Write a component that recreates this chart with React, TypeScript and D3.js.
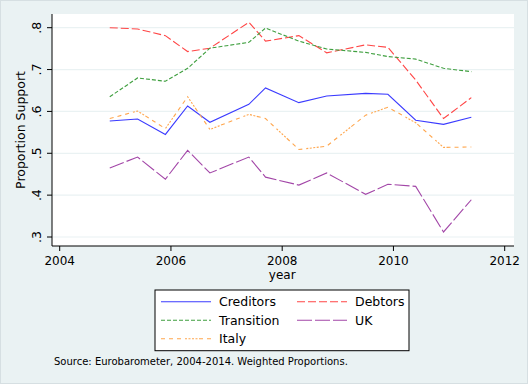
import React from 'react';
import * as d3 from 'd3';

// survey waves (fractional year)
const years = [2004.9, 2005.4, 2005.9, 2006.3, 2006.7, 2007.4, 2007.7, 2008.3, 2008.8, 2009.5, 2009.9, 2010.4, 2010.9, 2011.4];

const creditors = [0.577, 0.582, 0.545, 0.613, 0.574, 0.617, 0.656, 0.621, 0.637, 0.643, 0.641, 0.579, 0.569, 0.586];
const debtors = [0.800, 0.797, 0.781, 0.743, 0.751, 0.813, 0.768, 0.781, 0.740, 0.759, 0.753, 0.675, 0.583, 0.633];
const transition = [0.635, 0.680, 0.672, 0.703, 0.751, 0.765, 0.799, 0.768, 0.749, 0.741, 0.731, 0.725, 0.703, 0.695];
const uk = [0.465, 0.491, 0.438, 0.507, 0.453, 0.491, 0.443, 0.424, 0.453, 0.402, 0.426, 0.421, 0.312, 0.389];
const italy = [0.583, 0.601, 0.559, 0.635, 0.557, 0.593, 0.583, 0.509, 0.517, 0.591, 0.610, 0.573, 0.514, 0.515];

const xTicks = [2004, 2006, 2008, 2010, 2012];
const yTicks = [0.3, 0.4, 0.5, 0.6, 0.7, 0.8];

const series = [
  { name: 'Creditors', values: creditors, color: '#3b3bff', dash: '' },
  { name: 'Debtors', values: debtors, color: '#ff4545', dash: '8,3' },
  { name: 'Transition', values: transition, color: '#3f9f3f', dash: '4,2' },
  { name: 'UK', values: uk, color: '#a347a8', dash: '15,3' },
  { name: 'Italy', values: italy, color: '#ffa64d', dash: '4,4,4,4,4,4,2,1.5,2,1.5,2,1.5,2,1.5' },
];

const font = 'DejaVu Sans, sans-serif';

export default function App() {
  const W = 528, H = 384;
  const plot = { left: 52, right: 514, top: 14, bottom: 246 };
  const x = d3.scaleLinear().domain([2004, 2012]).range([59.7, 504.7]);
  const y = d3.scaleLinear().domain([0.3, 0.8]).range([237, 27.7]);

  const line = (vals: number[]) =>
    d3.line<number>().x((_, i) => x(years[i])).y(d => y(d))(vals) || '';

  // legend layout: 2 columns, 3 rows
  const legendItems = [
    { s: series[0], col: 0, row: 0 },
    { s: series[1], col: 1, row: 0 },
    { s: series[2], col: 0, row: 1 },
    { s: series[3], col: 1, row: 1 },
    { s: series[4], col: 0, row: 2 },
  ];
  const colX = [161, 297];
  const rowY = [301.7, 320.3, 338.8];

  return (
    <svg width={W} height={H} style={{ position: 'absolute', left: 0, top: 0 }} fontFamily={font}>
      <rect x={0} y={0} width={W} height={H} fill="#eaf2f3" />
      <rect x={0.5} y={0.5} width={W - 1} height={H - 1} fill="none" stroke="#d6dfe2" />
      <rect x={plot.left} y={plot.top} width={plot.right - plot.left} height={plot.bottom - plot.top} fill="#ffffff" />

      {yTicks.map(t => (
        <line key={'g' + t} x1={plot.left} x2={plot.right} y1={y(t)} y2={y(t)} stroke="#eaf2f3" strokeWidth={1.2} />
      ))}

      {series.map(s => (
        <path key={s.name} d={line(s.values)} fill="none" stroke={s.color} strokeWidth={1.1}
          strokeDasharray={s.dash || undefined} />
      ))}

      {/* axes */}
      <line x1={plot.left} x2={plot.left} y1={plot.top} y2={plot.bottom} stroke="#000" strokeWidth={1} />
      <line x1={plot.left} x2={plot.right} y1={plot.bottom} y2={plot.bottom} stroke="#000" strokeWidth={1} />

      {yTicks.map(t => (
        <g key={'y' + t}>
          <line x1={plot.left - 5} x2={plot.left} y1={y(t)} y2={y(t)} stroke="#000" />
          <text transform={`translate(41,${y(t)}) rotate(-90)`} textAnchor="middle" fontSize={12.5} fill="#000">
            {d3.format('.1f')(t).replace(/^0/, '')}
          </text>
        </g>
      ))}
      <text transform="translate(24.5,130) rotate(-90)" textAnchor="middle" fontSize={12.5} fill="#000">Proportion Support</text>

      {xTicks.map(t => (
        <g key={'x' + t}>
          <line x1={x(t)} x2={x(t)} y1={plot.bottom} y2={plot.bottom + 5} stroke="#000" />
          <text x={x(t)} y={264.5} textAnchor="middle" fontSize={12} fill="#000">{t}</text>
        </g>
      ))}
      <text x={x(2008)} y={278.5} textAnchor="middle" fontSize={12} fill="#000">year</text>

      {/* legend */}
      <rect x={155} y={290} width={254} height={60.7} fill="#ffffff" stroke="#000" strokeWidth={1} />
      {legendItems.map(({ s, col, row }) => (
        <g key={'l' + s.name}>
          <line x1={colX[col]} x2={colX[col] + 50} y1={rowY[row]} y2={rowY[row]} stroke={s.color}
            strokeWidth={1.1} strokeDasharray={s.dash || undefined} />
          <text x={colX[col] + 58} y={rowY[row] + 4.5} fontSize={12.5} fill="#000">{s.name}</text>
        </g>
      ))}

      <text x={54} y={365} fontSize={10} fill="#000">Source: Eurobarometer, 2004-2014. Weighted Proportions.</text>
    </svg>
  );
}
